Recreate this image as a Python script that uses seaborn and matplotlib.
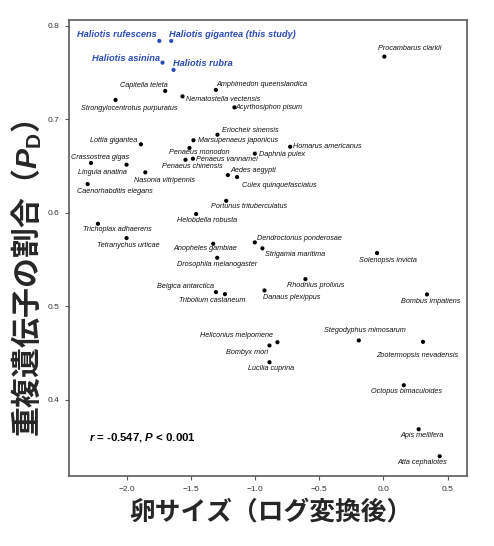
import matplotlib
matplotlib.use("Agg")
import matplotlib.pyplot as plt
import seaborn as sns
import pandas as pd

# ---------------- data ----------------
species = [
    "Haliotis rufescens", "Haliotis gigantea (this study)", "Haliotis asinina", "Haliotis rubra",
    "Procambarus clarkii", "Capitella teleta", "Strongylocentrotus purpuratus", "Nematostella vectensis",
    "Amphimedon queenslandica", "Acyrthosiphon pisum", "Eriocheir sinensis", "Lottia gigantea",
    "Marsupenaeus japonicus", "Homarus americanus", "Penaeus monodon", "Daphnia pulex",
    "Penaeus vannamei", "Crassostrea gigas", "Penaeus chinensis", "Aedes aegypti",
    "Lingula anatina", "Nasonia vitripennis", "Culex quinquefasciatus", "Caenorhabditis elegans",
    "Portunus trituberculatus", "Helobdella robusta", "Trichoplax adhaerens", "Dendroctonus ponderosae",
    "Tetranychus urticae", "Anopheles gambiae", "Strigamia maritima", "Solenopsis invicta",
    "Drosophila melanogaster", "Rhodnius prolixus", "Belgica antarctica", "Danaus plexippus",
    "Bombus impatiens", "Tribolium castaneum", "Heliconius melpomene", "Stegodyphus mimosarum",
    "Bombyx mori", "Zootermopsis nevadensis", "Lucilia cuprina", "Octopus bimaculoides",
    "Apis mellifera", "Atta cephalotes",
]
egg_size_log = [
    -1.745, -1.652, -1.720, -1.634,
    0.008, -1.699, -2.086, -1.564,
    -1.304, -1.160, -1.292, -1.888,
    -1.479, -0.726, -1.510, -1.001,
    -1.483, -2.277, -1.541, -1.211,
    -2.000, -1.854, -1.139, -2.303,
    -1.224, -1.458, -2.223, -1.001,
    -2.000, -1.325, -0.942, -0.049,
    -1.294, -0.607, -1.304, -0.926,
    0.340, -1.234, -0.825, -0.191,
    -0.887, 0.309, -0.887, 0.159,
    0.275, 0.439,
]
pd_ratio = [
    0.7836, 0.7836, 0.7604, 0.7526,
    0.7668, 0.7301, 0.7205, 0.7243,
    0.7312, 0.7125, 0.6833, 0.6730,
    0.6773, 0.6704, 0.6691, 0.6630,
    0.6576, 0.6530, 0.6565, 0.6401,
    0.6512, 0.6430, 0.6380, 0.6305,
    0.6126, 0.5984, 0.5880, 0.5681,
    0.5727, 0.5666, 0.5617, 0.5567,
    0.5516, 0.5288, 0.5149, 0.5167,
    0.5124, 0.5127, 0.4613, 0.4632,
    0.4578, 0.4617, 0.4399, 0.4153,
    0.3682, 0.3393,
]
group = ["Haliotis"] * 4 + ["other"] * 42

x_ticks = [-2.0, -1.5, -1.0, -0.5, 0.0, 0.5]
y_ticks = [0.4, 0.5, 0.6, 0.7, 0.8]
stat_text = r"$\mathbfit{r}$ = -0.547, $\mathbfit{P}$ < 0.001"
x_label = "卵サイズ（ログ変換後）"
y_label = "重複遺伝子の割合（$\\mathbfit{P}_{\\mathbf{D}}$）"

# label placement (offset in pixels from the point, horizontal alignment)
label_offsets = [
    (-2.3, 6, "right"), (-2.7, 6, "left"), (-3, 4.4, "right"), (-1, 6, "left"),
    (-6, 7.7, "left"), (2.3, 5.3, "right"), (13.4, -9, "center"), (3.4, -3.6, "left"),
    (0.3, 5, "left"), (1.4, -0.6, "left"), (5, 4, "left"), (-3.4, 3.6, "right"),
    (5, 0, "left"), (3.3, 0, "left"), (9.5, -4.3, "center"), (4.3, -0.6, "left"),
    (3.3, -0.6, "left"), (9.3, 5.7, "center"), (6.7, -7, "center"), (2.3, 5, "left"),
    (0.4, -7.6, "right"), (19.3, -7.7, "center"), (4.7, -8.7, "left"), (27.7, -7, "center"),
    (22.7, -5.6, "center"), (10.8, -6.7, "center"), (19, -5.3, "center"), (2, 4.3, "left"),
    (2, -7.3, "center"), (-7.6, -5, "center"), (2.7, -5.7, "left"), (11, -7, "center"),
    (0, -6.3, "center"), (10.2, -6, "center"), (-2.4, 5.3, "right"), (-1, -7.4, "left"),
    (3.7, -7.4, "center"), (-12.5, -6, "center"), (-4, 6.7, "right"), (6, 10.3, "center"),
    (-1, -7, "right"), (-6.3, -14, "center"), (1.5, -6.3, "center"), (2.3, -6, "center"),
    (3.5, -6, "center"), (-17.2, -6.7, "center"),
]

df = pd.DataFrame({"species": species, "x": egg_size_log, "y": pd_ratio, "group": group})

# ---------------- style ----------------
sns.set_theme(style="white")
plt.rcParams["font.family"] = ["Liberation Sans", "Noto Sans CJK JP", "DejaVu Sans"]
plt.rcParams["mathtext.fontset"] = "custom"
plt.rcParams["mathtext.rm"] = "Liberation Sans:bold"
plt.rcParams["mathtext.bf"] = "Liberation Sans:bold"
plt.rcParams["mathtext.it"] = "Liberation Sans:italic:bold"
plt.rcParams["mathtext.bfit"] = "Liberation Sans:italic:bold"

BLUE = "#2a4db3"
FRAME = "#5a5a5a"

fig = plt.figure(figsize=(4.94, 5.46), dpi=100)
ax = fig.add_axes([69.3 / 494, 1 - 476 / 546, (467.3 - 69.3) / 494, (476 - 19.7) / 546])

sns.scatterplot(data=df, x="x", y="y", hue="group",
                palette={"Haliotis": BLUE, "other": "black"},
                s=9, edgecolor="none", legend=False, ax=ax, zorder=3)

for i, row in df.iterrows():
    dx, dy, ha = label_offsets[i]
    if row["group"] == "Haliotis":
        ax.annotate(row["species"], (row["x"], row["y"]), xytext=(dx, dy),
                    textcoords="offset pixels", ha=ha, va="center",
                    fontsize=6.7, fontweight="bold", fontstyle="italic",
                    color=BLUE, family="Liberation Sans")
    else:
        ax.annotate(row["species"], (row["x"], row["y"]), xytext=(dx, dy),
                    textcoords="offset pixels", ha=ha, va="center",
                    fontsize=5.2, fontstyle="italic", color="#111111",
                    family="Liberation Sans")

ax.text(-2.29, 0.3594, stat_text, fontsize=8.2, fontweight="bold",
        ha="left", va="center", color="black", family="Liberation Sans")

ax.set_xlim(-2.446, 0.654)
ax.set_ylim(0.3182, 0.8063)
ax.set_xticks(x_ticks)
ax.set_yticks(y_ticks)
ax.set_xticklabels([f"{t:.1f}".replace("-", "\u2212") for t in x_ticks])
ax.set_yticklabels([f"{t:.1f}" for t in y_ticks])
ax.tick_params(axis="both", which="both", direction="out", length=3, width=0.8,
               color=FRAME, labelsize=6, labelcolor="#333333", pad=4,
               bottom=True, left=True)
for sp in ax.spines.values():
    sp.set_visible(True)
    sp.set_color(FRAME)
    sp.set_linewidth(1.2)

ax.set_xlabel("")
ax.set_ylabel("")
fig.text(271 / 494, 1 - 511.5 / 546, x_label, ha="center", va="center",
         fontsize=18.5, fontweight="bold", family=["Noto Sans CJK JP", "DejaVu Sans"])
fig.text(27 / 494, 1 - 279 / 546, y_label, ha="center", va="center", rotation=90,
         fontsize=21.5, fontweight="bold", family=["Noto Sans CJK JP", "DejaVu Sans"])

fig.savefig("out.png", dpi=100, facecolor="white")
